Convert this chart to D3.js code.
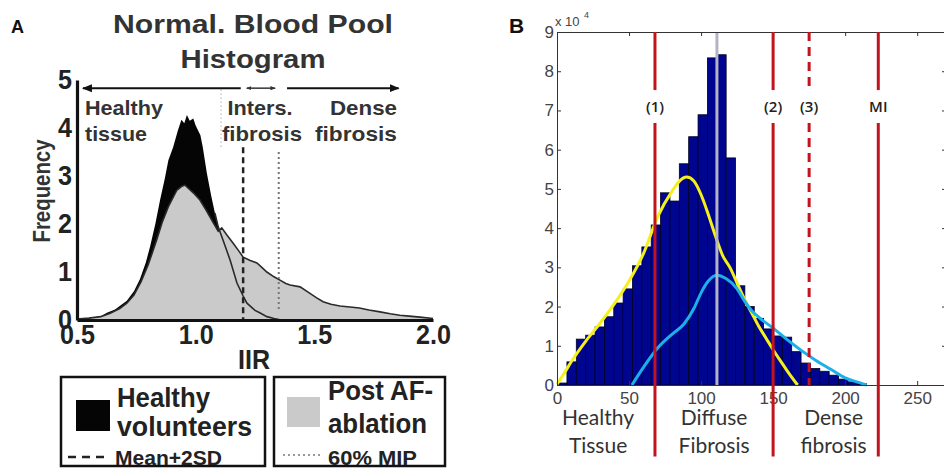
<!DOCTYPE html>
<html>
<head>
<meta charset="utf-8">
<script src="https://cdnjs.cloudflare.com/ajax/libs/d3/7.8.5/d3.min.js"></script>
<style>
  body { margin: 0; background: #fff; }
  svg { display: block; }
</style>
</head>
<body>
<svg id="chart" width="944" height="469"></svg>
<script>
// ---- panel A: normalised blood pool histogram ----
const iirHealthy  = [0.5, 0.55, 0.6, 0.626, 0.66, 0.71, 0.74, 0.765, 0.79, 0.808, 0.83, 0.85, 0.87, 0.885, 0.905, 0.925, 0.94, 0.952, 0.963, 0.975, 0.99, 1.0, 1.02, 1.03, 1.047, 1.065, 1.081, 1.095, 1.12, 1.145, 1.174, 1.2, 1.216, 1.25, 1.27, 1.3, 1.33, 1.36];
const freqHealthy = [0.02, 0.04, 0.08, 0.15, 0.22, 0.4, 0.6, 0.85, 1.2, 1.53, 2.0, 2.5, 2.95, 3.33, 3.6, 3.95, 4.17, 4.1, 4.27, 4.15, 4.2, 4.05, 3.85, 3.6, 3.06, 2.6, 2.23, 1.94, 1.6, 1.25, 0.77, 0.5, 0.35, 0.2, 0.15, 0.07, 0.03, 0];

const iirPostAF  = [0.5, 0.55, 0.6, 0.64, 0.68, 0.71, 0.74, 0.77, 0.8, 0.836, 0.86, 0.885, 0.92, 0.94, 0.955, 0.97, 0.99, 1.018, 1.045, 1.075, 1.095, 1.11, 1.13, 1.158, 1.18, 1.2, 1.23, 1.258, 1.28, 1.3, 1.33, 1.355, 1.38, 1.398, 1.44, 1.48, 1.51, 1.537, 1.57, 1.608, 1.65, 1.69, 1.73, 1.777, 1.82, 1.86, 1.9, 1.945, 2.0];
const freqPostAF = [0.02, 0.04, 0.07, 0.14, 0.24, 0.35, 0.52, 0.8, 1.15, 1.67, 2.05, 2.36, 2.7, 2.78, 2.81, 2.74, 2.65, 2.5, 2.28, 2.02, 1.85, 1.92, 1.78, 1.6, 1.45, 1.31, 1.24, 1.19, 1.09, 1.0, 0.9, 0.83, 0.76, 0.73, 0.69, 0.56, 0.46, 0.38, 0.33, 0.29, 0.27, 0.25, 0.21, 0.17, 0.13, 0.1, 0.08, 0.06, 0.03];

const iirTicksA  = [0.5, 1.0, 1.5, 2.0];
const freqTicksA = [0, 1, 2, 3, 4, 5];
const meanPlus2SD = 1.2;
const mip60 = 1.35;

// ---- panel B: intensity histogram with fitted curves ----
const binWidth = 6.5;
const binStarts = [0.4, 6.9, 13.4, 19.9, 26.4, 32.9, 39.4, 45.9, 52.4, 58.9, 65.4, 71.9, 78.4, 84.9, 91.4, 97.9, 104.4, 110.9, 117.4, 123.9, 130.4, 136.9, 143.4, 149.9, 156.4, 162.9, 169.4, 175.9, 182.4, 188.9, 195.4, 201.9, 208.4];
const binCounts = [0.05, 0.59, 1.17, 1.27, 1.48, 1.74, 2.09, 2.45, 3.04, 3.52, 4.08, 4.9, 4.69, 5.64, 6.33, 6.89, 8.34, 8.42, 5.79, 2.53, 2.0, 1.7, 1.43, 1.25, 1.22, 0.85, 0.56, 0.42, 0.35, 0.25, 0.15, 0.08, 0.03];

const yellowX = [0, 5, 10, 20, 30, 40, 50, 60, 70, 80, 85, 90, 95, 100, 105, 110, 115, 120, 125, 130, 135, 140, 145, 150, 155, 160, 167];
const yellowY = [0.02, 0.3, 0.6, 1.12, 1.58, 2.08, 2.65, 3.35, 4.3, 4.95, 5.2, 5.3, 5.2, 4.85, 4.35, 3.8, 3.3, 3.0, 2.6, 2.2, 1.85, 1.5, 1.2, 0.9, 0.62, 0.35, 0];

const cyanX = [52, 60, 70, 80, 88, 95, 100, 105, 111, 117, 125, 130, 135, 141, 150, 160, 170, 180, 190, 200, 208, 215];
const cyanY = [0, 0.45, 0.95, 1.3, 1.55, 1.95, 2.35, 2.65, 2.8, 2.72, 2.45, 2.15, 1.9, 1.7, 1.45, 1.15, 0.87, 0.62, 0.4, 0.18, 0.08, 0];

const medianLine = 111;
const thresholds = [
  { v: 68,  label: "(1)", dashed: false },
  { v: 150, label: "(2)", dashed: false },
  { v: 175, label: "(3)", dashed: true },
  { v: 223, label: "MI",  dashed: false }
];
const xTicksB = [0, 50, 100, 150, 200, 250];
const yTicksB = [0, 1, 2, 3, 4, 5, 6, 7, 8, 9];
const regionsB = [
  { c: 28.5, l1: "Healthy", l2: "Tissue" },
  { c: 109,  l1: "Diffuse", l2: "Fibrosis" },
  { c: 192,  l1: "Dense",   l2: "fibrosis" }
];

const svg = d3.select("#chart");
const boldFont = "'Liberation Sans', Arial, sans-serif";

function label(g, str, x, y, o = {}) {
  const t = g.append("text")
    .attr("x", x).attr("y", y)
    .attr("font-family", o.family || boldFont)
    .attr("font-weight", o.weight || "bold")
    .attr("font-size", o.size || 20)
    .attr("fill", o.fill || "#222")
    .attr("text-anchor", o.anchor || "start")
    .text(str);
  if (o.len) t.attr("textLength", o.len).attr("lengthAdjust", "spacingAndGlyphs");
  return t;
}

// ===================== PANEL A =====================
const gA = svg.append("g");
const xA = d3.scaleLinear().domain([0.5, 2.0]).range([77, 433]);
const yA = d3.scaleLinear().domain([0, 5]).range([320, 80]);

const healthy = iirHealthy.map((d, i) => [d, freqHealthy[i]]);
const postAF = iirPostAF.map((d, i) => [d, freqPostAF[i]]);

const areaA = d3.area().x(d => xA(d[0])).y0(yA(0)).y1(d => yA(d[1])).curve(d3.curveLinear);
const lineA = d3.line().x(d => xA(d[0])).y(d => yA(d[1])).curve(d3.curveLinear);

gA.append("path").attr("d", areaA(healthy)).attr("fill", "#050505");
gA.append("path").attr("d", areaA(postAF)).attr("fill", "#cacaca");
gA.append("path").attr("d", lineA(postAF)).attr("fill", "none").attr("stroke", "#2a2a2a").attr("stroke-width", 1.6);
gA.append("path").attr("d", lineA(healthy.filter(d => d[0] >= 1.08))).attr("fill", "none").attr("stroke", "#2a2a2a").attr("stroke-width", 1.6);

// threshold lines
gA.append("line").attr("x1", xA(meanPlus2SD)).attr("x2", xA(meanPlus2SD)).attr("y1", yA(3.6)).attr("y2", yA(0.02))
  .attr("stroke", "#222").attr("stroke-width", 2.5).attr("stroke-dasharray", "6,4");
gA.append("line").attr("x1", xA(mip60)).attr("x2", xA(mip60)).attr("y1", yA(3.5)).attr("y2", yA(0.2))
  .attr("stroke", "#777").attr("stroke-width", 2).attr("stroke-dasharray", "2,3");
gA.append("line").attr("x1", xA(1.107)).attr("x2", xA(1.107)).attr("y1", yA(4.8)).attr("y2", yA(3.6))
  .attr("stroke", "#bbb").attr("stroke-width", 1.2).attr("stroke-dasharray", "1.5,2.5");

// region arrows
const defs = svg.append("defs");
defs.append("marker").attr("id", "arrA").attr("viewBox", "0 0 10 10").attr("refX", 9).attr("refY", 5)
  .attr("markerWidth", 5).attr("markerHeight", 5).attr("orient", "auto-start-reverse")
  .append("path").attr("d", "M0,1L10,5L0,9z").attr("fill", "#111");
defs.append("marker").attr("id", "arrS").attr("viewBox", "0 0 10 10").attr("refX", 9).attr("refY", 5)
  .attr("markerWidth", 3.5).attr("markerHeight", 3.5).attr("orient", "auto-start-reverse")
  .append("path").attr("d", "M0,1L10,5L0,9z").attr("fill", "#333");

const arrowY = yA(4.83);
gA.append("line").attr("x1", xA(0.525)).attr("x2", xA(1.19)).attr("y1", arrowY).attr("y2", arrowY)
  .attr("stroke", "#111").attr("stroke-width", 2).attr("marker-start", "url(#arrA)");
gA.append("line").attr("x1", xA(1.215)).attr("x2", xA(1.335)).attr("y1", arrowY).attr("y2", arrowY)
  .attr("stroke", "#333").attr("stroke-width", 1.5).attr("marker-start", "url(#arrS)").attr("marker-end", "url(#arrS)");
gA.append("line").attr("x1", xA(1.385)).attr("x2", xA(1.855)).attr("y1", arrowY).attr("y2", arrowY)
  .attr("stroke", "#111").attr("stroke-width", 2).attr("marker-end", "url(#arrA)");

// axes
const axA_y = gA.append("g").attr("transform", `translate(${xA(0.5)},0)`)
  .call(d3.axisLeft(yA).tickValues(freqTicksA).tickSize(0).tickPadding(5).tickFormat(d3.format("d")));
const axA_x = gA.append("g").attr("transform", `translate(0,${yA(0)})`)
  .call(d3.axisBottom(xA).tickValues(iirTicksA).tickSize(0).tickPadding(5).tickFormat(d3.format(".1f")));
[axA_y, axA_x].forEach(ax => {
  ax.select(".domain").attr("stroke", "#111").attr("stroke-width", 3.2);
  ax.selectAll("text").attr("font-family", boldFont).attr("font-weight", "bold")
    .attr("font-size", 27).attr("fill", "#222");
});
axA_y.selectAll("text").attr("textLength", 14).attr("lengthAdjust", "spacingAndGlyphs");
axA_x.selectAll("text").attr("textLength", 35).attr("lengthAdjust", "spacingAndGlyphs");

// texts
label(gA, "A", 11, 33, { size: 18, family: "Arial, 'Liberation Sans', sans-serif", fill: "#111" });
label(gA, "Normal. Blood Pool", 253, 33, { size: 25, anchor: "middle", len: 280, fill: "#333" });
label(gA, "Histogram", 253, 68, { size: 25, anchor: "middle", len: 145, fill: "#333" });
label(gA, "Healthy", 85, 115, { size: 21, len: 78, fill: "#333" });
label(gA, "tissue", 85, 141, { size: 21, len: 62, fill: "#333" });
label(gA, "Inters.", 260, 115, { size: 21, anchor: "middle", len: 65, fill: "#333" });
label(gA, "fibrosis", 262, 141, { size: 21, anchor: "middle", len: 80, fill: "#333" });
label(gA, "Dense", 397, 115, { size: 21, anchor: "end", len: 67, fill: "#333" });
label(gA, "fibrosis", 397, 141, { size: 21, anchor: "end", len: 82, fill: "#333" });
label(gA, "Frequency", 0, 0, { size: 23, anchor: "middle", len: 103, fill: "#333" })
  .attr("transform", "translate(50,191) rotate(-90)");
label(gA, "IIR", 254, 369, { size: 28, anchor: "middle", len: 32, fill: "#222" });

// legend
const leg = gA.append("g");
leg.append("rect").attr("x", 61).attr("y", 377).attr("width", 204).attr("height", 89)
  .attr("fill", "none").attr("stroke", "#111").attr("stroke-width", 2.5);
leg.append("rect").attr("x", 76).attr("y", 400).attr("width", 34).attr("height", 31).attr("fill", "#050505");
label(leg, "Healthy", 117, 407, { size: 27, len: 93 });
label(leg, "volunteers", 117, 436, { size: 27, len: 135 });
leg.append("line").attr("x1", 68).attr("x2", 110).attr("y1", 457).attr("y2", 457)
  .attr("stroke", "#222").attr("stroke-width", 2.5).attr("stroke-dasharray", "8,6");
label(leg, "Mean+2SD", 115, 465, { size: 21, len: 107 });

leg.append("rect").attr("x", 274).attr("y", 377).attr("width", 171).attr("height", 89)
  .attr("fill", "none").attr("stroke", "#111").attr("stroke-width", 2.5);
leg.append("rect").attr("x", 287).attr("y", 397).attr("width", 33).attr("height", 30).attr("fill", "#cacaca");
label(leg, "Post AF-", 328, 400, { size: 27, len: 105 });
label(leg, "ablation", 328, 433, { size: 27, len: 99 });
leg.append("line").attr("x1", 283).attr("x2", 322).attr("y1", 455).attr("y2", 455)
  .attr("stroke", "#999").attr("stroke-width", 2).attr("stroke-dasharray", "2,3");
label(leg, "60% MIP", 328, 465, { size: 21, len: 89 });

// ===================== PANEL B =====================
const gB = svg.append("g");
const xB = d3.scaleLinear().domain([0, 270]).range([557, 946]);
const yB = d3.scaleLinear().domain([0, 9]).range([385, 32]);

gB.selectAll("rect.bar").data(binStarts).join("rect").attr("class", "bar")
  .attr("x", d => xB(d)).attr("width", d => xB(d + binWidth) - xB(d))
  .attr("y", (d, i) => yB(binCounts[i])).attr("height", (d, i) => yB(0) - yB(binCounts[i]))
  .attr("fill", "#00058f").attr("stroke", "#000020").attr("stroke-width", 0.8);

const lineB = d3.line().x(d => xB(d[0])).y(d => yB(d[1])).curve(d3.curveMonotoneX);
gB.append("path").attr("d", lineB(yellowX.map((d, i) => [d, yellowY[i]])))
  .attr("fill", "none").attr("stroke", "#f4f01c").attr("stroke-width", 3);
gB.append("path").attr("d", lineB(cyanX.map((d, i) => [d, cyanY[i]])))
  .attr("fill", "none").attr("stroke", "#1cb0e8").attr("stroke-width", 3);

gB.append("line").attr("x1", xB(medianLine)).attr("x2", xB(medianLine)).attr("y1", yB(9)).attr("y2", yB(0))
  .attr("stroke", "#b4b4c4").attr("stroke-width", 3);

// axes box with inward ticks
const styleAx = ax => {
  ax.select(".domain").attr("stroke", "#333").attr("stroke-width", 1);
  ax.selectAll(".tick line").attr("stroke", "#333");
  ax.selectAll("text").attr("font-family", "'Liberation Sans', Arial, sans-serif")
    .attr("font-size", 17).attr("fill", "#444");
};
styleAx(gB.append("g").attr("transform", `translate(0,${yB(0)})`)
  .call(d3.axisBottom(xB).tickValues(xTicksB).tickSizeInner(-4).tickSizeOuter(0).tickPadding(7)));
styleAx(gB.append("g").attr("transform", `translate(0,${yB(9)})`)
  .call(d3.axisTop(xB).tickValues(xTicksB).tickSizeInner(-4).tickSizeOuter(0).tickFormat("")));
const axB_y = gB.append("g").attr("transform", `translate(${xB(0)},0)`)
  .call(d3.axisLeft(yB).tickValues(yTicksB).tickSizeInner(-4).tickSizeOuter(0).tickPadding(3));
styleAx(axB_y);
axB_y.selectAll(".tick text").filter(d => d === 0).attr("fill", "#3a3a6a");
styleAx(gB.append("g").attr("transform", `translate(${xB(270)},0)`)
  .call(d3.axisRight(yB).tickValues(yTicksB).tickSizeInner(-4).tickSizeOuter(0).tickFormat("")));

// threshold lines with label gaps
const redCol = "#c2141f";
thresholds.forEach(t => {
  const x = xB(t.v);
  const lo = t.dashed ? 0 : -1.82;
  const seg = (a, b) => gB.append("line").attr("x1", x).attr("x2", x).attr("y1", yB(a)).attr("y2", yB(b))
    .attr("stroke", redCol).attr("stroke-width", 3)
    .attr("stroke-dasharray", t.dashed ? "9,6" : null);
  seg(9, 7.52);
  seg(6.68, lo);
  label(gB, t.label, x, yB(7.1) + 5, { size: 15, weight: "600", anchor: "middle", fill: "#222",
    family: "'Open Sans', 'Liberation Sans', sans-serif" });
});

label(gB, "B", 509, 33, { size: 21, family: "Arial, 'Liberation Sans', sans-serif", fill: "#111" });
label(gB, "x 10", 555, 26, { size: 13, weight: "normal", fill: "#444" });
label(gB, "4", 584, 18, { size: 9, weight: "normal", fill: "#444" });

regionsB.forEach(r => {
  label(gB, r.l1, xB(r.c), 425, { size: 21, weight: "normal", anchor: "middle", fill: "#333", family: "Lato, 'Open Sans', sans-serif" });
  label(gB, r.l2, xB(r.c), 453, { size: 21, weight: "normal", anchor: "middle", fill: "#333", family: "Lato, 'Open Sans', sans-serif" });
});
</script>
</body>
</html>
